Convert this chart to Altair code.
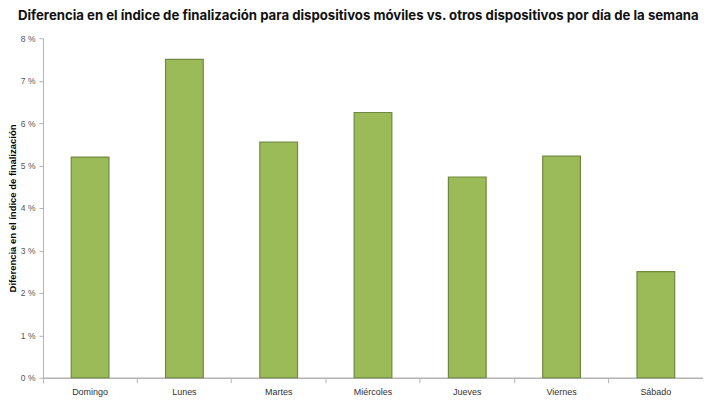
import altair as alt
import pandas as pd

days = ["Domingo", "Lunes", "Martes", "Miércoles", "Jueves", "Viernes", "Sábado"]
values = [5.2, 7.5, 5.55, 6.25, 4.73, 5.22, 2.5]

df = pd.DataFrame({"dia": days, "valor": values})

chart = alt.Chart(df).mark_bar(
    fill="#9BBB59", stroke="#71893F", strokeWidth=1.2,
    width=alt.RelativeBandSize(0.4)
).encode(
    x=alt.X("dia:N", sort=days, title=None,
            scale=alt.Scale(paddingInner=0, paddingOuter=0),
            axis=alt.Axis(labelAngle=0, bandPosition=1, tickExtra=True,
                          labelFont="Liberation Sans", labelFontSize=9,
                          labelColor="#333333", labelPadding=5,
                          domainColor="#B3B3B3", tickColor="#B3B3B3",
                          tickSize=5, domainWidth=1.5)),
    y=alt.Y("valor:Q", title="Diferencia en el índice de finalización",
            scale=alt.Scale(domain=[0, 8]),
            axis=alt.Axis(values=[0, 1, 2, 3, 4, 5, 6, 7, 8],
                          labelExpr="datum.value + ' %'", grid=False,
                          labelFont="Liberation Sans", labelFontSize=8.5,
                          labelColor="#555555", labelPadding=4,
                          domainColor="#B3B3B3", tickColor="#B3B3B3",
                          tickSize=4, domainWidth=1,
                          titleFont="Liberation Sans", titleFontSize=9.5,
                          titleFontWeight="bold", titleColor="#000000",
                          titlePadding=3))
).properties(
    width=661, height=340,
    autosize=alt.AutoSizeParams(type="none"),
    padding={"left": 35, "top": 30, "right": 0, "bottom": 20},
    title=alt.TitleParams(
        "Diferencia en el índice de finalización para dispositivos móviles vs. otros dispositivos por día de la semana",
        anchor="start", frame="group", font="Inter", fontSize=13.2,
        fontWeight="bold", color="#111111", offset=11, dx=-25),
).configure_view(stroke=None)

chart.save("out.html", embed_options={"renderer": "svg", "actions": False})
